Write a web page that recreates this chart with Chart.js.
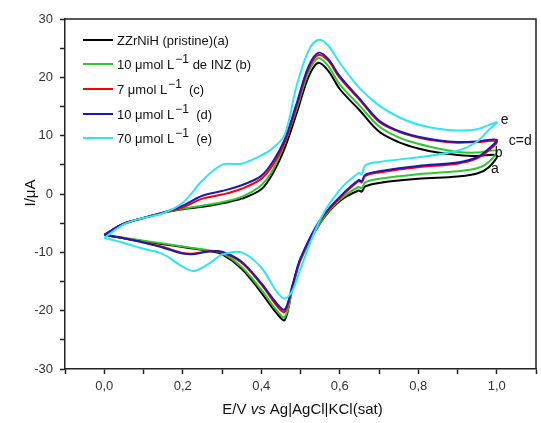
<!DOCTYPE html>
<html>
<head>
<meta charset="utf-8">
<script src="https://cdn.jsdelivr.net/npm/chart.js@4"></script>
<style>
  html, body { margin: 0; padding: 0; background: #fff; }
  #cv { display: block; }
</style>
</head>
<body>
<canvas id="cv" width="541" height="423"></canvas>
<script>
// potential grid (V) for the anodic sweep (0 -> 1.0) and the return sweep (1.0 -> 0)
const eForward = [0, 0.05, 0.1, 0.15, 0.2, 0.25, 0.3, 0.35, 0.4, 0.43, 0.46, 0.49, 0.52, 0.545, 0.57, 0.6, 0.65, 0.7, 0.75, 0.8, 0.85, 0.9, 0.95, 1.0];
const eReverse = [0.98, 0.95, 0.9, 0.8, 0.7, 0.665, 0.656, 0.648, 0.6, 0.55, 0.5, 0.48, 0.46, 0.44, 0.4, 0.35, 0.3, 0.27, 0.23, 0.2, 0.15, 0.1, 0.05, 0];

// currents (uA)
const pristineFwd = [-7.0, -5.1, -4.1, -3.2, -2.6, -2.2, -1.6, -0.8, 0.8, 3.6, 7.9, 13.8, 20.0, 22.5, 21.2, 18.0, 14.4, 10.7, 8.9, 7.8, 7.1, 6.7, 6.5, 6.6];
const pristineRev = [4.6, 3.5, 3.0, 2.6, 1.9, 1.3, 0.4, 0.6, -1.2, -5.0, -11.3, -15.8, -21.6, -20.5, -16.9, -12.8, -10.3, -9.8, -9.4, -9.1, -8.6, -8.1, -7.6, -7.0];
const ins10bFwd = [-7.0, -5.1, -4.1, -3.2, -2.5, -2.0, -1.4, -0.5, 1.5, 4.2, 8.8, 14.6, 20.8, 23.3, 22.0, 18.8, 15.2, 11.6, 9.7, 8.6, 7.8, 7.2, 7.1, 7.4];
const ins10bRev = [5.5, 4.4, 3.9, 3.4, 2.6, 2.0, 1.0, 1.2, -1.0, -4.9, -11.4, -16.2, -21.1, -20.0, -16.4, -12.5, -10.1, -9.7, -9.3, -9.0, -8.5, -8.0, -7.5, -7.0];
const ins7Fwd = [-7.0, -5.1, -4.1, -3.2, -2.3, -0.8, -0.1, 0.9, 2.6, 5.0, 8.9, 15.0, 21.4, 23.8, 22.9, 19.9, 16.2, 12.4, 10.7, 9.7, 9.1, 8.8, 8.9, 9.0];
const ins7Rev = [7.5, 6.1, 5.2, 4.6, 3.7, 3.1, 2.0, 2.2, -0.7, -4.6, -11.2, -15.8, -20.2, -19.2, -15.5, -11.8, -10.0, -9.8, -10.2, -10.1, -9.1, -8.3, -7.6, -7.0];
const ins10dFwd = [-7.0, -5.1, -4.1, -3.2, -2.0, -0.3, 0.5, 1.5, 3.1, 5.6, 9.4, 15.5, 21.8, 24.2, 23.2, 20.2, 16.4, 12.6, 10.8, 9.8, 9.2, 8.9, 9.0, 9.3];
const ins10dRev = [7.8, 6.3, 5.4, 4.8, 3.9, 3.3, 2.2, 2.4, -0.5, -4.4, -11.0, -15.5, -19.8, -18.8, -15.3, -11.6, -9.9, -9.8, -10.3, -10.2, -9.2, -8.3, -7.6, -7.0];
const ins70Fwd = [-7.5, -5.2, -4.1, -3.3, -1.5, 2.3, 5.0, 5.2, 6.6, 7.9, 10.2, 18.5, 24.5, 26.4, 25.5, 22.5, 18.2, 15.2, 13.2, 11.9, 11.2, 10.9, 11.1, 12.3];
const ins70Rev = [11.0, 9.0, 7.4, 6.3, 5.5, 4.9, 3.4, 3.6, 0.7, -4.4, -12.8, -16.5, -17.9, -16.8, -12.6, -10.0, -10.4, -11.8, -13.2, -12.5, -10.3, -9.4, -8.4, -7.5];

const seriesNames = ["ZZrNiH (pristine)(a)", "10 μmol L-1 de INZ (b)", "7 μmol L-1  (c)", "10 μmol L-1  (d)", "70 μmol L-1  (e)"];
const seriesColors = ["#000000", "#2ec82e", "#ff0000", "#1a1ab4", "#2ee6f0"];

const yTicks = [-30, -20, -10, 0, 10, 20, 30];
const xTicks = [0, 0.2, 0.4, 0.6, 0.8, 1.0];

// curve tags near the right end: [text, E, I]
const curveTags = [["e", 1.02, 12.7], ["c=d", 1.06, 9.1], ["b", 1.005, 7.0], ["a", 0.995, 4.3]];

function loop(fwd, rev) {
    const pts = eForward.map((e, i) => ({ x: e, y: fwd[i] }));
    return pts.concat(eReverse.map((e, i) => ({ x: e, y: rev[i] })));
}

const curves = [
    loop(pristineFwd, pristineRev),
    loop(ins10bFwd, ins10bRev),
    loop(ins7Fwd, ins7Rev),
    loop(ins10dFwd, ins10dRev),
    loop(ins70Fwd, ins70Rev)
];
// draw order: blue over red over green over black, cyan on top
const drawOrder = [5, 4, 3, 2, 1];

const FONT = "'Liberation Sans', Arial, sans-serif";

const decorPlugin = {
    id: "decor",
    afterDraw(chart) {
        const ctx = chart.ctx;
        const a = chart.chartArea;
        const xs = chart.scales.x, ys = chart.scales.y;
        ctx.save();
        // frame top/right
        ctx.strokeStyle = "#222";
        ctx.lineWidth = 1.5;
        ctx.beginPath();
        ctx.moveTo(a.left, a.top);
        ctx.lineTo(a.right, a.top);
        ctx.lineTo(a.right, a.bottom);
        ctx.stroke();

        // legend
        ctx.textBaseline = "alphabetic";
        ctx.textAlign = "left";
        const rowY = [40, 64, 89, 114, 138];
        seriesNames.forEach((name, i) => {
            const y = rowY[i];
            ctx.strokeStyle = seriesColors[i];
            ctx.lineWidth = 2;
            ctx.beginPath();
            ctx.moveTo(83, y);
            ctx.lineTo(113, y);
            ctx.stroke();
            ctx.fillStyle = "#111";
            let x = 117;
            const parts = name.split("L-1");
            ctx.font = "13px " + FONT;
            ctx.fillText(parts[0] + (parts.length > 1 ? "L" : ""), x, y + 5);
            x += ctx.measureText(parts[0] + (parts.length > 1 ? "L" : "")).width;
            if (parts.length > 1) {
                ctx.font = "12px " + FONT;
                ctx.fillText("\u22121", x + 1, y - 1);
                x += ctx.measureText("\u22121").width + 1;
                ctx.font = "13px " + FONT;
                ctx.fillText(parts[1], x, y + 5);
            }
        });

        // curve tags
        ctx.font = "14px " + FONT;
        ctx.fillStyle = "#111";
        ctx.textAlign = "center";
        ctx.textBaseline = "middle";
        curveTags.forEach(t => {
            ctx.fillText(t[0], xs.getPixelForValue(t[1]), ys.getPixelForValue(t[2]));
        });

        // y title
        ctx.save();
        ctx.translate(31, 193);
        ctx.rotate(-Math.PI / 2);
        ctx.font = "15px " + FONT;
        ctx.fillText("I/μA", 0, 0);
        ctx.restore();

        // x title with italic "vs"
        const p1 = "E/V ", p2 = "vs", p3 = " Ag|AgCl|KCl(sat)";
        ctx.textAlign = "left";
        ctx.font = "15px " + FONT;
        const w1 = ctx.measureText(p1).width, w3 = ctx.measureText(p3).width;
        ctx.font = "italic 15px " + FONT;
        const w2 = ctx.measureText(p2).width;
        let x0 = (a.left + a.right) / 2 + 2 - (w1 + w2 + w3) / 2;
        const ty = 410;
        ctx.font = "15px " + FONT;
        ctx.fillText(p1, x0, ty);
        ctx.font = "italic 15px " + FONT;
        ctx.fillText(p2, x0 + w1, ty);
        ctx.font = "15px " + FONT;
        ctx.fillText(p3, x0 + w1 + w2, ty);
        ctx.restore();
    }
};

new Chart(document.getElementById("cv"), {
    type: "scatter",
    data: {
        datasets: curves.map((pts, i) => ({
            label: seriesNames[i],
            data: pts,
            showLine: true,
            borderColor: seriesColors[i],
            backgroundColor: seriesColors[i],
            borderWidth: 2,
            pointRadius: 0,
            tension: 0.35,
            order: drawOrder[i]
        }))
    },
    options: {
        responsive: false,
        animation: false,
        layout: { padding: { top: 19, right: 1, left: 0, bottom: 0 } },
        plugins: { legend: { display: false }, tooltip: { enabled: false } },
        scales: {
            x: {
                type: "linear",
                min: -0.1,
                max: 1.1,
                afterFit: s => { s.height = 54; },
                grid: { drawOnChartArea: false, drawTicks: true, tickLength: 5, color: "#222", tickWidth: 1.5 },
                border: { color: "#222", width: 1.5 },
                ticks: {
                    stepSize: 0.1,
                    padding: 5,
                    color: "#333",
                    font: { family: FONT, size: 13 },
                    maxRotation: 0,
                    autoSkip: false,
                    callback: v => {
                        const k = Math.round(v * 10);
                        const hit = xTicks.find(t => Math.round(t * 10) === k);
                        return hit === undefined ? "" : hit.toFixed(1).replace(".", ",");
                    }
                }
            },
            y: {
                min: -30,
                max: 30,
                afterFit: s => { s.width = 65; },
                grid: { drawOnChartArea: false, drawTicks: true, tickLength: 5, color: "#222", tickWidth: 1.5 },
                border: { color: "#222", width: 1.5 },
                ticks: {
                    stepSize: 5,
                    padding: 7,
                    color: "#333",
                    font: { family: FONT, size: 13 },
                    autoSkip: false,
                    callback: v => yTicks.includes(v) ? String(v) : ""
                }
            }
        }
    },
    plugins: [decorPlugin]
});
</script>
</body>
</html>
